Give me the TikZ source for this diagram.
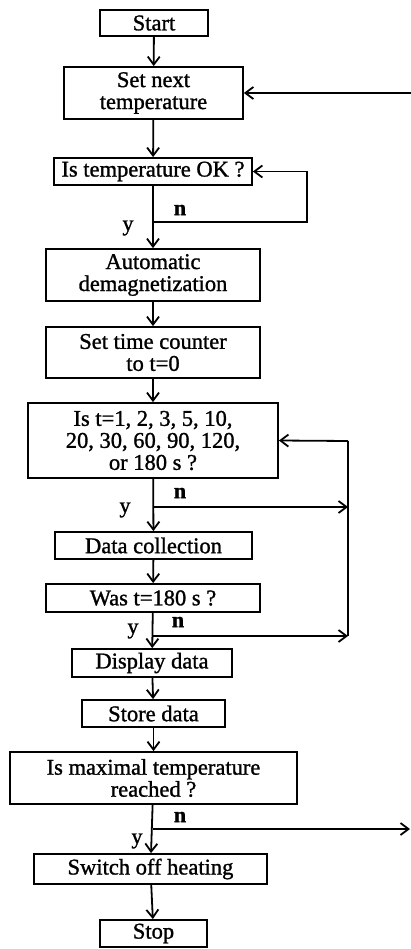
\documentclass[tikz,border=0pt]{standalone}
\usepackage{fontspec}
\setmainfont{Liberation Serif}[FakeBold=1.2]
\usetikzlibrary{arrows.meta,positioning,calc}

\begin{document}
\begin{tikzpicture}[x=1pt, y=-1pt,
  every node/.style={font=\fontsize{22.5}{22}\selectfont},
  box/.style={draw, line width=1.8pt, align=center, inner sep=0pt},
  flow/.style={line width=1.8pt, -{Straight Barb[length=8pt,width=12pt]}},
  wire/.style={line width=1.8pt},
  lbl/.style={inner sep=0pt}]
  % Define dimensions
  \def\mx{153}
  \def\rx{348}
  \useasboundingbox (0,0) rectangle (411,949);

  % Draw boxes along the main line
  \node[box, minimum width=108, minimum height=26] (start) at (154,23) {Start};
  \node[box, minimum width=179, minimum height=52] (settemp) at (\mx.5,93) {Set next\\temperature};
  \node[box, minimum width=198, minimum height=27] (tempok) at (\mx,171.5) {Is temperature OK ?};
  \node[box, minimum width=214, minimum height=52] (demag) at (\mx,275) {Automatic\\demagnetization};
  \node[box, minimum width=214, minimum height=51] (counter) at (\mx,352.5) {Set time counter\\to t=0};
  \node[box, minimum width=250, minimum height=75] (istime) at (\mx,440.5) {Is t=1, 2, 3, 5, 10,\\20, 30, 60, 90, 120,\\or 180 s ?};
  \node[box, minimum width=197, minimum height=27] (collect) at (\mx.5,545.5) {Data collection};
  \node[box, minimum width=214, minimum height=28] (was) at (\mx,598) {Was t=180 s ?};
  \node[box, minimum width=160, minimum height=28] (display) at (152,663) {Display data};
  \node[box, minimum width=143, minimum height=27] (store) at (\mx.5,713.5) {Store data};
  \node[box, minimum width=287, minimum height=52] (maxtemp) at (\mx.5,778) {Is maximal temperature\\reached ?};
  \node[box, minimum width=233, minimum height=30] (heatoff) at (150.5,869) {Switch off heating};
  \node[box, minimum width=107, minimum height=27] (stop) at (\mx.5,933.5) {Stop};

  % Define branch points
  \coordinate (A) at (\mx,222);
  \coordinate (A1) at (307,222);
  \coordinate (B) at (\mx,507);
  \coordinate (C) at (\mx,636);
  \coordinate (Rtop) at (\rx,441);
  \coordinate (Rbot) at (\rx,636);
  \coordinate (D) at (\mx,829);
  \coordinate (Dout) at (410,829);
  \coordinate (Tin) at (411,93);

  % Draw main flow
  \draw[flow] (start) -- (settemp);
  \draw[flow] (settemp) -- (tempok);
  \draw[flow] (tempok) -- (demag);
  \draw[flow] (demag) -- (counter);
  \draw[flow] (counter) -- (istime);
  \draw[flow] (istime) -- (collect);
  \draw[flow] (collect) -- (was);
  \draw[flow] (was) -- (display);
  \draw[flow] (display) -- (store);
  \draw[flow] (store) -- (maxtemp);
  \draw[flow] (maxtemp) -- (heatoff);
  \draw[flow] (heatoff) -- (stop);

  % Draw loops
  \draw[flow] (Tin) -- (settemp.east);
  \draw[flow] (A) -- (A1) |- (tempok.east);
  \draw[flow] (B) -- (\rx,507);
  \draw[flow] (C) -- (Rbot);
  \draw[wire] (Rbot) -- (Rtop);
  \draw[flow] (Rtop) -- (istime.east);
  \draw[flow] (D) -- (Dout);

  % Label branches
  \node[lbl, font=\fontsize{22}{22}\bfseries] (n1) at (180,210) {n};
  \node[lbl, font=\fontsize{22}{22}\selectfont] (y1) at (128,228) {y};
  \node[lbl, font=\fontsize{22}{22}\bfseries] (n2) at (180,493) {n};
  \node[lbl, font=\fontsize{22}{22}\selectfont] (y2) at (125,510) {y};
  \node[lbl, font=\fontsize{22}{22}\bfseries] (n3) at (178,622) {n};
  \node[lbl, font=\fontsize{22}{22}\selectfont] (y3) at (133,631) {y};
  \node[lbl, font=\fontsize{22}{22}\bfseries] (n4) at (180,817) {n};
  \node[lbl, font=\fontsize{22}{22}\selectfont] (y4) at (137,841) {y};
\end{tikzpicture}
\end{document}
